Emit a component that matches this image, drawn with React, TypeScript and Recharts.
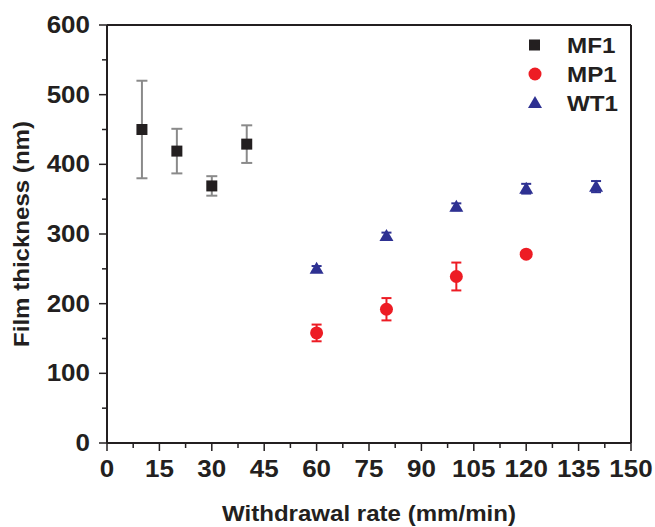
import React from 'react';
import { ScatterChart, Scatter, XAxis, YAxis, ErrorBar } from 'recharts';

const mf1X = [10, 20, 30, 40];
const mf1Y = [450, 419, 369, 429];
const mf1Err = [70, 32, 14, 27];

const mp1X = [60, 80, 100, 120];
const mp1Y = [158, 192, 239, 271];
const mp1Err = [12, 16, 20, 4];

const wt1X = [60, 80, 100, 120, 140];
const wt1Y = [250, 297, 339, 365, 368];
const wt1Err = [4, 5, 5, 7, 8];

const xMajor = [0, 15, 30, 45, 60, 75, 90, 105, 120, 135, 150];
const xMinor = [7.5, 22.5, 37.5, 52.5, 67.5, 82.5, 97.5, 112.5, 127.5, 142.5];
const yMajor = [0, 100, 200, 300, 400, 500, 600];
const yMinor = [50, 150, 250, 350, 450, 550];

const xTicks = [...xMajor, ...xMinor].sort((a, b) => a - b);
const yTicks = [...yMajor, ...yMinor].sort((a, b) => a - b);

const toRows = (xs: number[], ys: number[], es: number[]) =>
  xs.map((x, i) => ({ x, y: ys[i], err: es[i] }));

const mf1 = toRows(mf1X, mf1Y, mf1Err);
const mp1 = toRows(mp1X, mp1Y, mp1Err);
const wt1 = toRows(wt1X, wt1Y, wt1Err);

const INK = '#231f20';
const RED = '#ed1c24';
const NAVY = '#2e3192';
const FONT = '"Liberation Sans", Arial, sans-serif';
const SX = 1.13;

const Square = ({ cx, cy }: any) => (
  <rect x={cx - 5.5} y={cy - 5.5} width={11} height={11} fill={INK} />
);
const Dot = ({ cx, cy }: any) => <circle cx={cx} cy={cy} r={6.5} fill={RED} />;
const Tri = ({ cx, cy }: any) => (
  <polygon points={`${cx},${cy - 7} ${cx - 7},${cy + 5} ${cx + 7},${cy + 5}`} fill={NAVY} />
);

const BottomTick = ({ x, y, payload }: any) => {
  const major = xMajor.includes(payload.value);
  return (
    <g>
      <line x1={x} y1={y} x2={x} y2={y + (major ? 8 : 5)} stroke={INK} strokeWidth={1.5} />
      {major && (
        <text
          transform={`translate(${x},${y + 34}) scale(${SX},1)`}
          textAnchor="middle"
          fontFamily={FONT}
          fontWeight="bold"
          fontSize={23}
          fill={INK}
        >
          {payload.value}
        </text>
      )}
    </g>
  );
};

const TopTick = ({ x, y, payload }: any) => {
  const major = xMajor.includes(payload.value);
  return <line x1={x} y1={y} x2={x} y2={y - (major ? 8 : 5)} stroke={INK} strokeWidth={1.5} />;
};

const LeftTick = ({ x, y, payload }: any) => {
  const major = yMajor.includes(payload.value);
  return (
    <g>
      <line x1={x} y1={y} x2={x - (major ? 8 : 5)} y2={y} stroke={INK} strokeWidth={1.5} />
      {major && (
        <text
          transform={`translate(${x - 17},${y + 8}) scale(${SX},1)`}
          textAnchor="end"
          fontFamily={FONT}
          fontWeight="bold"
          fontSize={23}
          fill={INK}
        >
          {payload.value}
        </text>
      )}
    </g>
  );
};

const RightTick = ({ x, y, payload }: any) => {
  const major = yMajor.includes(payload.value);
  return <line x1={x} y1={y} x2={x + (major ? 8 : 5)} y2={y} stroke={INK} strokeWidth={1.5} />;
};

const axisLine = { stroke: INK, strokeWidth: 2 };

const legendItems = [
  { name: 'MF1', y: 45, mark: <rect x={529} y={39.5} width={11} height={11} fill={INK} /> },
  { name: 'MP1', y: 74, mark: <circle cx={535} cy={74} r={6.5} fill={RED} /> },
  { name: 'WT1', y: 103, mark: <polygon points="535,96 528,108 542,108" fill={NAVY} /> },
];

export default function App() {
  return (
    <div style={{ position: 'absolute', left: 0, top: 0, width: 655, height: 527, background: '#fff' }}>
      <ScatterChart width={655} height={527} margin={{ top: 0, right: 0, bottom: 0, left: 0 }}>
        <XAxis
          xAxisId="b"
          type="number"
          dataKey="x"
          domain={[0, 150]}
          ticks={xTicks}
          interval={0}
          height={84}
          tickSize={0}
          tickMargin={0}
          tickLine={false}
          axisLine={axisLine}
          tick={<BottomTick />}
        />
        <XAxis
          xAxisId="t"
          orientation="top"
          type="number"
          dataKey="x"
          domain={[0, 150]}
          ticks={xTicks}
          interval={0}
          height={25}
          tickSize={0}
          tickMargin={0}
          tickLine={false}
          axisLine={axisLine}
          tick={<TopTick />}
        />
        <YAxis
          yAxisId="l"
          type="number"
          dataKey="y"
          domain={[0, 600]}
          ticks={yTicks}
          interval={0}
          width={107}
          tickSize={0}
          tickMargin={0}
          tickLine={false}
          axisLine={axisLine}
          tick={<LeftTick />}
        />
        <YAxis
          yAxisId="r"
          orientation="right"
          type="number"
          dataKey="y"
          domain={[0, 600]}
          ticks={yTicks}
          interval={0}
          width={24}
          tickSize={0}
          tickMargin={0}
          tickLine={false}
          axisLine={axisLine}
          tick={<RightTick />}
        />
        <Scatter name="MF1" data={mf1} xAxisId="b" yAxisId="l" shape={<Square />} isAnimationActive={false}>
          <ErrorBar dataKey="err" direction="y" width={5.5} stroke="#8a8a8a" strokeWidth={2} />
        </Scatter>
        <Scatter name="MP1" data={mp1} xAxisId="b" yAxisId="l" shape={<Dot />} isAnimationActive={false}>
          <ErrorBar dataKey="err" direction="y" width={5} stroke={RED} strokeWidth={2} />
        </Scatter>
        <Scatter name="WT1" data={wt1} xAxisId="b" yAxisId="l" shape={<Tri />} isAnimationActive={false}>
          <ErrorBar dataKey="err" direction="y" width={5} stroke={NAVY} strokeWidth={2} />
        </Scatter>
      </ScatterChart>
      <svg
        width={655}
        height={527}
        style={{ position: 'absolute', left: 0, top: 0, pointerEvents: 'none' }}
      >
        <text
          transform={`translate(369,521) scale(1.12,1)`}
          textAnchor="middle"
          fontFamily={FONT}
          fontWeight="bold"
          fontSize={21.5}
          fill={INK}
        >
          Withdrawal rate (mm/min)
        </text>
        <text
          transform={`translate(29,234) rotate(-90) scale(1.12,1)`}
          textAnchor="middle"
          fontFamily={FONT}
          fontWeight="bold"
          fontSize={21.5}
          fill={INK}
        >
          Film thickness (nm)
        </text>
        {legendItems.map((it) => (
          <g key={it.name}>
            {it.mark}
            <text
              transform={`translate(567,${it.y + 8}) scale(1.1,1)`}
              fontFamily={FONT}
              fontWeight="bold"
              fontSize={22}
              fill={INK}
            >
              {it.name}
            </text>
          </g>
        ))}
      </svg>
    </div>
  );
}
